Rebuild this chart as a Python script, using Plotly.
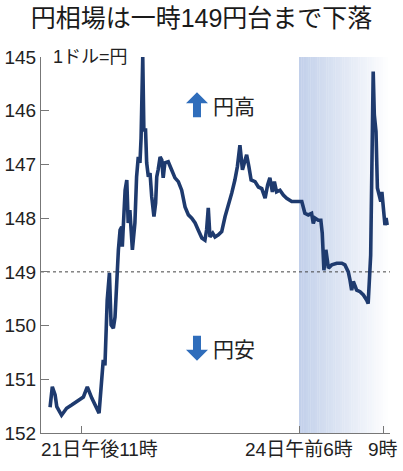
import plotly.graph_objects as go

# hours from 21日23時 (trading time, weekend gap closed)
hours = [-1.14, -1.06, -0.96, -0.90, -0.73, -0.55, -0.37, -0.13, 0.05, 0.19,
         0.35, 0.61, 0.70, 0.76, 0.82, 0.90, 0.98, 1.04, 1.12, 1.18,
         1.30, 1.36, 1.42, 1.44, 1.54, 1.60, 1.65, 1.71, 1.80, 1.89,
         1.95, 2.01, 2.07, 2.11, 2.17, 2.21, 2.27, 2.31, 2.37, 2.43,
         2.49, 2.57, 2.63, 2.67, 2.72, 2.79, 2.85, 2.90, 2.96, 3.08,
         3.20, 3.32, 3.44, 3.56, 3.68, 3.80, 3.92, 4.04, 4.15, 4.28,
         4.39, 4.45, 4.51, 4.57, 4.67, 4.75, 4.87, 4.99, 5.11, 5.23,
         5.35, 5.46, 5.55, 5.64, 5.73, 5.80, 5.88, 5.96, 6.04, 6.18,
         6.30, 6.42, 6.54, 6.63, 6.71, 6.80, 6.87, 6.95, 7.07, 7.19,
         7.31, 7.49, 7.67, 7.85, 7.96, 8.08, 8.20, 8.26, 8.32, 8.44,
         8.53, 8.58, 8.64, 8.71, 8.80, 8.92, 9.10, 9.28, 9.39, 9.51,
         9.57, 9.63, 9.69, 9.81, 9.93, 10.05, 10.17, 10.22, 10.31, 10.37,
         10.40, 10.44, 10.50, 10.55, 10.62, 10.67, 10.71, 10.76, 10.82, 10.86,
         10.90]
yen = [151.52, 151.14, 151.29, 151.51, 151.67, 151.54, 151.48, 151.39, 151.33, 151.14,
       151.35, 151.63, 151.07, 150.64, 150.74, 149.53, 149.02, 149.99, 150.05, 149.84,
       148.59, 148.22, 148.16, 148.53, 147.48, 147.29, 148.09, 147.85, 148.59, 148.09,
       147.23, 146.86, 146.97, 146.51, 145.00, 146.36, 146.36, 146.97, 147.23, 147.16,
       147.60, 147.97, 147.72, 147.23, 147.10, 146.86, 146.92, 147.25, 146.97, 146.95,
       147.10, 147.25, 147.32, 147.48, 147.79, 147.94, 148.00, 148.09, 148.22, 148.37,
       148.41, 148.22, 147.81, 148.35, 148.28, 148.35, 148.31, 148.25, 147.97, 147.76,
       147.53, 147.29, 147.04, 146.64, 147.10, 146.97, 146.82, 147.04, 147.29, 147.32,
       147.42, 147.45, 147.63, 147.38, 147.25, 147.51, 147.32, 147.51, 147.48, 147.57,
       147.63, 147.69, 147.69, 147.69, 147.91, 147.94, 147.91, 148.10, 148.00, 148.04,
       148.04, 148.28, 148.97, 148.59, 148.93, 148.87, 148.84, 148.84, 148.87, 149.00,
       149.15, 149.34, 149.18, 149.34, 149.37, 149.43, 149.53, 149.59, 148.69, 146.51,
       145.27, 146.08, 146.39, 147.44, 147.57, 147.69, 147.51, 147.88, 148.13, 148.00,
       148.13]

tick_pos = [0, 7.75, 10.75]
tick_text = ["21日午後11時", "24日午前6時", "9時"]
y_ticks = [145, 146, 147, 148, 149, 150, 151, 152]

x_min, x_max = -1.464, 11.0
shade_start = 7.75

JP = "Liberation Sans, Noto Sans CJK JP"
LINE = "#1e3a6e"
ARROW = "#2f6dbb"

fig = go.Figure()

# gradient shade (light blue -> white), built from thin rects
n = 40
c0 = (194, 208, 234)
step = (x_max - shade_start) / n
for i in range(n):
    t = i / (n - 1)
    r, g, b = [int(round(c + (255 - c) * t)) for c in c0]
    fig.add_shape(type="rect", xref="x", yref="y",
                  x0=shade_start + i * step, x1=shade_start + (i + 1) * step + 0.01,
                  y0=152, y1=145, line_width=0,
                  fillcolor=f"rgb({r},{g},{b})", layer="below")

fig.add_shape(type="line", xref="x", yref="y", x0=x_min, x1=x_max, y0=149, y1=149,
              line=dict(color="#444", width=1, dash="dot"), layer="below")

fig.add_trace(go.Scatter(x=hours, y=yen, mode="lines",
                         line=dict(color=LINE, width=3.6), hoverinfo="skip"))

fig.update_layout(
    width=403, height=471,
    margin=dict(l=41, r=13, t=57, b=38, autoexpand=False),
    paper_bgcolor="white", plot_bgcolor="rgba(0,0,0,0)",
    showlegend=False,
    title=dict(text="円相場は一時149円台まで下落", x=0.5, xanchor="center",
               y=0.962, yanchor="middle",
               font=dict(family=JP, size=25, color="#1a1a1a")),
    font=dict(family=JP, color="#222"),
)

fig.update_xaxes(range=[x_min, x_max], showgrid=False, zeroline=False, automargin=False,
                 showline=True, linecolor="#777", linewidth=1,
                 tickvals=tick_pos, ticks="inside", ticklen=7, tickcolor="#777",
                 showticklabels=False)
fig.update_yaxes(range=[152, 145], showgrid=False, zeroline=False, automargin=False,
                 showline=True, linecolor="#777", linewidth=1,
                 tickvals=y_ticks, ticks="inside", ticklen=8, tickcolor="#777",
                 tickfont=dict(family="Liberation Sans", size=19, color="#222"))

# x tick labels (first one shifted right as in the original)
shifts = [18, 0, 0]
for pos, txt, sh in zip(tick_pos, tick_text, shifts):
    fig.add_annotation(x=pos, y=0, xref="x", yref="paper", yanchor="top", yshift=-4,
                       xshift=sh, text=txt, showarrow=False,
                       font=dict(family=JP, size=19, color="#222"))

fig.add_annotation(x=x_min, y=145, xref="x", yref="y", xanchor="left", xshift=10,
                   text="1ドル=円", showarrow=False,
                   font=dict(family=JP, size=18, color="#222"))

# 円高 / 円安 labels with block arrows
arrow_x = 4.107
for yv, label, d in [(145.89, "円高", 1), (150.42, "円安", -1)]:
    fig.add_annotation(x=arrow_x, y=yv, xref="x", yref="y", xanchor="left", xshift=14,
                       text=label, showarrow=False,
                       font=dict(family="Noto Sans CJK JP", size=21, color="#222"))
    pts = [(0, 12.5), (11, 1.5), (4, 1.5), (4, -12.5), (-4, -12.5), (-4, 1.5), (-11, 1.5)]
    path = "M " + " L ".join(f"{px},{py * d}" for px, py in pts) + " Z"
    fig.add_shape(type="path", xref="x", yref="y", xsizemode="pixel", ysizemode="pixel",
                  xanchor=arrow_x, yanchor=yv, path=path,
                  fillcolor=ARROW, line_width=0)

# page body has a default margin; drop it so the figure sits at the window origin
fig.write_html("out.html", config={"displayModeBar": False},
               post_script="document.body.style.margin='0';")
